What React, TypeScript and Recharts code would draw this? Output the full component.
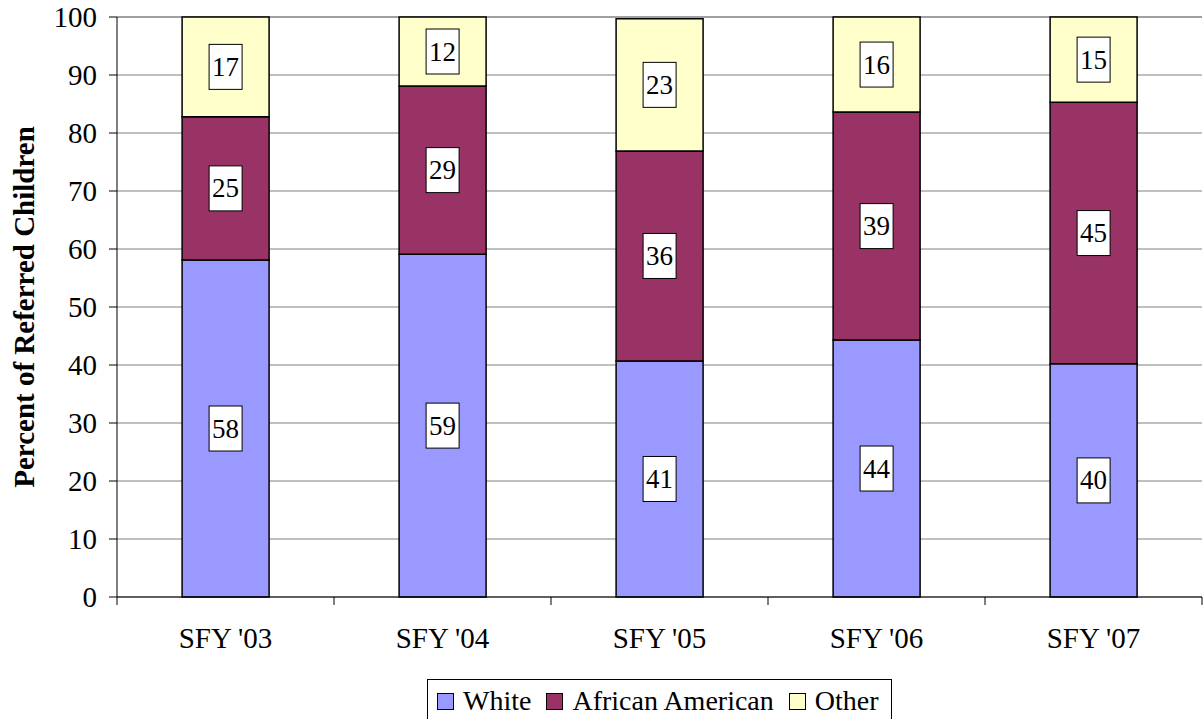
import { BarChart, Bar, XAxis, YAxis, CartesianGrid, Legend, LabelList } from 'recharts';

const years = ["SFY '03", "SFY '04", "SFY '05", "SFY '06", "SFY '07"];
const white = [58.1, 59.1, 40.7, 44.3, 40.2];
const africanAmerican = [24.7, 29.0, 36.2, 39.3, 45.1];
const other = [17.2, 11.9, 22.8, 16.4, 14.7];
const yTicks = [0, 10, 20, 30, 40, 50, 60, 70, 80, 90, 100];

const data = years.map((name, i) => ({
  name,
  white: white[i],
  aa: africanAmerican[i],
  other: other[i],
}));

const font = "'Liberation Serif', Tinos, 'Times New Roman', Times, 'DejaVu Serif', serif";
const colors = { white: '#9999FF', aa: '#993366', other: '#FFFFCC' };

// half of one category band, for the ticks between categories
const halfBand = (1202 - 117) / years.length / 2;

const BoxLabel = (props: any) => {
  const { x, y, width, height, value } = props;
  const cx = x + width / 2;
  const cy = y + height / 2;
  return (
    <g>
      <rect x={cx - 16.5} y={cy - 22.5} width={33} height={45} fill="#fff" stroke="#000" strokeWidth={1} />
      <text x={cx} y={cy} textAnchor="middle" dominantBaseline="central" style={{ fontFamily: font }} fontSize={27} fill="#000">
        {Math.round(value)}
      </text>
    </g>
  );
};

const XTick = (props: any) => {
  const { x, y, payload, index } = props;
  return (
    <g>
      <line x1={x - halfBand} x2={x - halfBand} y1={y} y2={y + 8} stroke="#000" strokeWidth={1} />
      {index === years.length - 1 && (
        <line x1={x + halfBand} x2={x + halfBand} y1={y} y2={y + 8} stroke="#000" strokeWidth={1} />
      )}
      <text x={x} y={y + 51} textAnchor="middle" style={{ fontFamily: font }} fontSize={29} fill="#000">
        {payload.value}
      </text>
    </g>
  );
};

const legendItems = [
  { key: 'white', label: 'White' },
  { key: 'aa', label: 'African American' },
  { key: 'other', label: 'Other' },
];

const LegendBox = () => (
  <div
    style={{
      boxSizing: 'border-box',
      height: 44,
      width: 465,
      border: '1px solid #000',
      display: 'flex',
      alignItems: 'center',
      padding: '0 8px 0 9px',
      fontFamily: font,
      fontSize: 28,
      color: '#000',
      background: '#fff',
    }}
  >
    {legendItems.map((it, i) => (
      <div key={it.key} style={{ display: 'flex', alignItems: 'center', marginLeft: i === 0 ? 0 : 15 }}>
        <span
          style={{
            boxSizing: 'border-box',
            width: 17,
            height: 17,
            border: '1.5px solid #000',
            background: (colors as any)[it.key],
            marginRight: 9,
          }}
        />
        <span style={{ lineHeight: '30px' }}>{it.label}</span>
      </div>
    ))}
  </div>
);

const YTitle = (props: any) => {
  const { viewBox } = props;
  const cy = viewBox.y + viewBox.height / 2;
  return (
    <text
      x={24}
      y={cy}
      transform={`rotate(-90, 24, ${cy})`}
      textAnchor="middle"
      dominantBaseline="central"
      style={{ fontFamily: font }}
      fontSize={29}
      fontWeight="bold"
      fill="#000"
    >
      Percent of Referred Children
    </text>
  );
};

export default function App() {
  return (
    <div style={{ position: 'absolute', left: 0, top: 0, background: '#fff', fontFamily: font }}>
      <BarChart
        width={1204}
        height={719}
        data={data}
        margin={{ top: 17, right: 2, left: 0, bottom: 0 }}
        barCategoryGap="30%"
        style={{ fontFamily: font }}
      >
        <CartesianGrid vertical={false} stroke="#808080" strokeWidth={1} />
        <XAxis
          dataKey="name"
          height={78}
          tickLine={false}
          tickSize={0}
          tickMargin={0}
          axisLine={{ stroke: '#000', strokeWidth: 1 }}
          tick={<XTick />}
          interval={0}
        />
        <YAxis
          width={117}
          domain={[0, 100]}
          ticks={yTicks}
          interval={0}
          tickSize={8}
          tickMargin={12}
          axisLine={{ stroke: '#000', strokeWidth: 1 }}
          tickLine={{ stroke: '#000', strokeWidth: 1 }}
          tick={{ style: { fontFamily: font }, fontSize: 29, fill: '#000' }}
          label={<YTitle />}
        />
        <Legend
          verticalAlign="bottom"
          content={<LegendBox />}
          wrapperStyle={{ left: 427, bottom: -4, width: 465 }}
        />
        <Bar dataKey="white" stackId="a" fill={colors.white} stroke="#000" strokeWidth={1.5} isAnimationActive={false}>
          <LabelList dataKey="white" content={<BoxLabel />} />
        </Bar>
        <Bar dataKey="aa" stackId="a" fill={colors.aa} stroke="#000" strokeWidth={1.5} isAnimationActive={false}>
          <LabelList dataKey="aa" content={<BoxLabel />} />
        </Bar>
        <Bar dataKey="other" stackId="a" fill={colors.other} stroke="#000" strokeWidth={1.5} isAnimationActive={false}>
          <LabelList dataKey="other" content={<BoxLabel />} />
        </Bar>
      </BarChart>
    </div>
  );
}
